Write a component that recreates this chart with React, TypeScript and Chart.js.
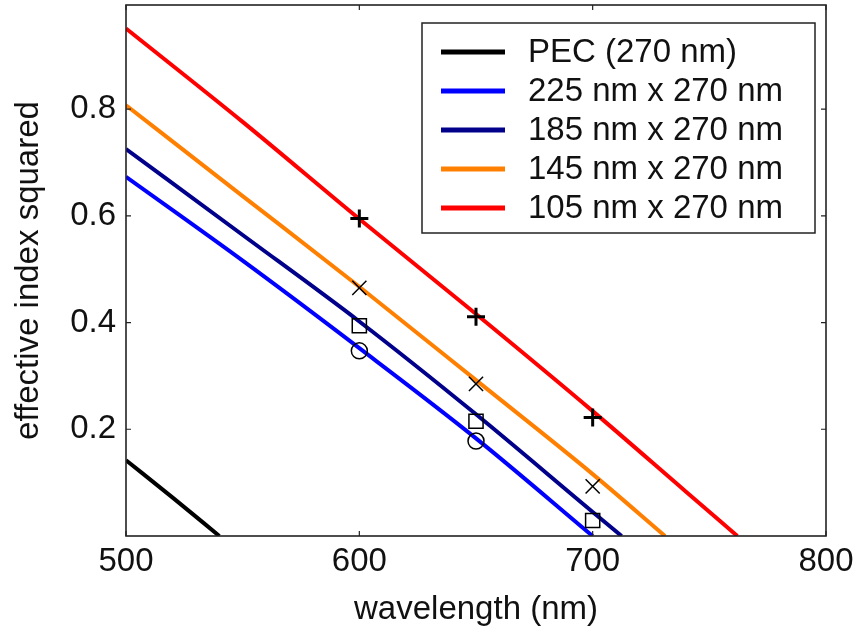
import React, { useEffect, useRef } from "react";
import { Chart, registerables } from "chart.js";

Chart.register(...registerables);

// ---- data ----
const xTickValues = [500, 600, 700, 800];
const yTickValues = [0.2, 0.4, 0.6, 0.8];

const seriesLabels = [
  "PEC (270 nm)",
  "225 nm x 270 nm",
  "185 nm x 270 nm",
  "145 nm x 270 nm",
  "105 nm x 270 nm",
];
const seriesColors = ["#000000", "#0000FF", "#00008B", "#FF8000", "#FF0000"];

const pecX = [500, 520, 540];
const pecY = [0.142, 0.072, 0];
const w225X = [500, 550, 600, 650, 700];
const w225Y = [0.673, 0.516, 0.352, 0.183, 0];
const w185X = [500, 550, 600, 650, 700, 712.4];
const w185Y = [0.725, 0.564, 0.402, 0.228, 0.045, 0];
const w145X = [500, 550, 600, 650, 700, 731];
const w145Y = [0.807, 0.637, 0.467, 0.292, 0.116, 0];
const w105X = [500, 550, 600, 650, 700, 740, 762];
const w105Y = [0.951, 0.776, 0.594, 0.416, 0.234, 0.083, 0];

const plusX = [600, 650, 700];
const plusY = [0.595, 0.411, 0.222];
const crossX = [600, 650, 700];
const crossY = [0.465, 0.285, 0.093];
const squareX = [600, 650, 700];
const squareY = [0.394, 0.215, 0.029];
const circleX = [600, 650];
const circleY = [0.347, 0.178];

const FONT = "'Liberation Sans', Arial, sans-serif";

const toPts = (xs: number[], ys: number[]) => xs.map((x, i) => ({ x, y: ys[i] }));

const frameLegendPlugin = {
  id: "frameLegend",
  afterDraw(chart: any) {
    const ctx = chart.ctx;
    const { left, right, top, bottom } = chart.chartArea;
    const xs = chart.scales.x;
    const ys = chart.scales.y;
    ctx.save();
    // inner tick marks
    ctx.strokeStyle = "#222";
    ctx.lineWidth = 1.2;
    const tl = 5;
    xTickValues.forEach((v) => {
      const px = xs.getPixelForValue(v);
      ctx.beginPath();
      ctx.moveTo(px, bottom);
      ctx.lineTo(px, bottom - tl);
      ctx.moveTo(px, top);
      ctx.lineTo(px, top + tl);
      ctx.stroke();
    });
    yTickValues.forEach((v) => {
      const py = ys.getPixelForValue(v);
      ctx.beginPath();
      ctx.moveTo(left, py);
      ctx.lineTo(left + tl, py);
      ctx.moveTo(right, py);
      ctx.lineTo(right - tl, py);
      ctx.stroke();
    });
    // frame
    ctx.lineWidth = 1.6;
    ctx.strokeStyle = "#222";
    ctx.strokeRect(left, top, right - left, bottom - top);

    // legend
    const bx = left + 296;
    const by = top + 18;
    const bw = 393;
    const bh = 210;
    ctx.fillStyle = "#fff";
    ctx.fillRect(bx, by, bw, bh);
    ctx.lineWidth = 1.5;
    ctx.strokeStyle = "#222";
    ctx.strokeRect(bx, by, bw, bh);
    ctx.font = `33px ${FONT}`;
    ctx.textBaseline = "middle";
    ctx.textAlign = "left";
    seriesLabels.forEach((lab, i) => {
      const cy = by + 29 + i * 39;
      ctx.strokeStyle = seriesColors[i];
      ctx.lineWidth = 5;
      ctx.lineCap = "butt";
      ctx.beginPath();
      ctx.moveTo(bx + 19, cy);
      ctx.lineTo(bx + 83, cy);
      ctx.stroke();
      ctx.fillStyle = "#111";
      ctx.fillText(lab, bx + 106, cy + 1);
    });
    ctx.restore();
  },
};

export default function App() {
  const ref = useRef<HTMLCanvasElement | null>(null);
  useEffect(() => {
    if (!ref.current) return;
    const lineX = [pecX, w225X, w185X, w145X, w105X];
    const lineY = [pecY, w225Y, w185Y, w145Y, w105Y];
    const lineSets = seriesLabels.map((lab, i) => ({
      type: "line" as const,
      label: lab,
      data: toPts(lineX[i], lineY[i]),
      borderColor: seriesColors[i],
      backgroundColor: seriesColors[i],
      borderWidth: 4,
      pointRadius: 0,
      cubicInterpolationMode: "monotone" as const,
      fill: false,
      order: 1,
    }));
    const markerSet = (lab: string, xs: number[], ys: number[], style: string, r: number, bw: number) => ({
      type: "line" as const,
      label: lab,
      data: toPts(xs, ys),
      showLine: false,
      pointStyle: style,
      pointRadius: r,
      pointBorderWidth: bw,
      pointBorderColor: "#000",
      pointBackgroundColor: "rgba(0,0,0,0)",
      borderColor: "#000",
      backgroundColor: "rgba(0,0,0,0)",
      order: 0,
    });
    const chart = new Chart(ref.current, {
      type: "line",
      data: {
        datasets: [
          markerSet("plus", plusX, plusY, "cross", 9, 3),
          markerSet("x", crossX, crossY, "crossRot", 10, 1.5),
          markerSet("square", squareX, squareY, "rect", 10, 1.5),
          markerSet("circle", circleX, circleY, "circle", 8, 1.5),
          ...lineSets,
        ] as any,
      },
      options: {
        animation: false,
        responsive: false,
        parsing: false as any,
        layout: { autoPadding: false, padding: { left: 0, top: 5, right: 32, bottom: 0 } },
        plugins: { legend: { display: false }, tooltip: { enabled: false } },
        scales: {
          x: {
            type: "linear",
            min: 500,
            max: 800,
            grid: { display: false, drawTicks: false },
            border: { display: false },
            afterBuildTicks: (s: any) => {
              s.ticks = xTickValues.map((v) => ({ value: v }));
            },
            afterFit: (s: any) => {
              s.height = 94;
              s.paddingLeft = 0;
              s.paddingRight = 0;
              s.paddingTop = 0;
              s.paddingBottom = 0;
            },
            ticks: {
              padding: 6,
              color: "#111",
              font: { family: FONT, size: 33 },
              maxRotation: 0,
              callback: (v: any) => String(v),
            },
            title: {
              display: true,
              text: "wavelength (nm)",
              color: "#111",
              font: { family: FONT, size: 33 },
              padding: { top: 13, bottom: 0 },
            },
          },
          y: {
            type: "linear",
            min: 0,
            max: 0.995,
            grid: { display: false, drawTicks: false },
            border: { display: false },
            afterBuildTicks: (s: any) => {
              s.ticks = yTickValues.map((v) => ({ value: v }));
            },
            afterFit: (s: any) => {
              s.width = 126;
              s.paddingTop = 0;
              s.paddingBottom = 0;
              s.paddingLeft = 0;
              s.paddingRight = 0;
            },
            ticks: {
              padding: 10,
              color: "#111",
              font: { family: FONT, size: 33 },
              callback: (v: any) => Number(v).toFixed(1),
            },
            title: {
              display: true,
              text: "effective index squared",
              color: "#111",
              font: { family: FONT, size: 33 },
              padding: { top: 9, bottom: 0 },
            },
          },
        },
      } as any,
      plugins: [frameLegendPlugin],
    });
    return () => chart.destroy();
  }, []);
  return (
    <div style={{ position: "absolute", left: 0, top: 0, width: 858, height: 630, background: "#fff" }}>
      <canvas ref={ref} width={858} height={630} style={{ display: "block" }} />
    </div>
  );
}
